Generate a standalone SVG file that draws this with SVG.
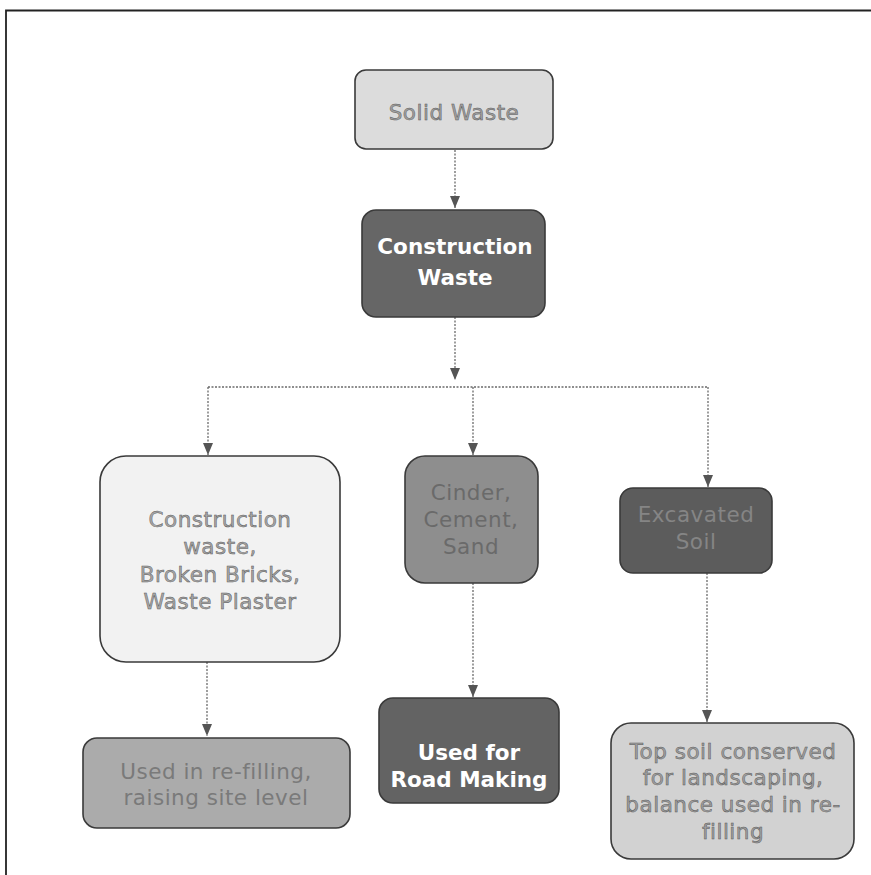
<svg xmlns="http://www.w3.org/2000/svg" width="871" height="875" viewBox="0 0 871 875">
  <defs>
    <marker id="arrowDown" viewBox="0 0 10 12" refX="5" refY="12" markerWidth="10" markerHeight="12" markerUnits="userSpaceOnUse">
      <path d="M0,0 L10,0 L5,12 Z" fill="#555"/>
    </marker>
  </defs>
  <style>
    .box { stroke: #3a3a3a; stroke-width: 1.6; }
    .t { font-family: "DejaVu Sans", "Liberation Sans", sans-serif; font-size: 21.5px; text-anchor: middle; letter-spacing: 0.5px; }
    .o { stroke: #5a5a5a; stroke-width: 0.5; }
    .b { font-weight: bold; fill: #ffffff; letter-spacing: 0; }
    .link { fill: none; stroke: #6a6a6a; stroke-width: 1.3; stroke-dasharray: 2 1.5; }
  </style>

  <rect width="871" height="875" fill="#ffffff"/>
  <!-- page frame -->
  <path d="M6,875 L6,10.5 L871,10.5" fill="none" stroke="#222" stroke-width="1.8"/>

  <g id="connectors">
    <path class="link" d="M455,150 L455,208" marker-end="url(#arrowDown)"/>
    <path class="link" d="M455,317 L455,380" marker-end="url(#arrowDown)"/>
    <path class="link" d="M208,387 L708,387"/>
    <path class="link" d="M208,387 L208,455" marker-end="url(#arrowDown)"/>
    <path class="link" d="M473,387 L473,455" marker-end="url(#arrowDown)"/>
    <path class="link" d="M708,387 L708,487" marker-end="url(#arrowDown)"/>
    <path class="link" d="M207,662 L207,736" marker-end="url(#arrowDown)"/>
    <path class="link" d="M473,583 L473,697" marker-end="url(#arrowDown)"/>
    <path class="link" d="M707,573 L707,722" marker-end="url(#arrowDown)"/>
  </g>

  <g id="solid-waste">
    <rect class="box" x="355" y="70" width="198" height="79" rx="11" fill="#dcdcdc"/>
    <text class="t o" x="454" y="120" fill="#a0a0a0">Solid Waste</text>
  </g>

  <g id="construction-waste">
    <rect class="box" x="362" y="210" width="183" height="107" rx="14" fill="#666666"/>
    <text class="t b" x="455" y="254">Construction</text>
    <text class="t b" x="455" y="285">Waste</text>
  </g>

  <g id="bricks-plaster">
    <rect class="box" x="100" y="456" width="240" height="206" rx="26" fill="#f2f2f2"/>
    <text class="t o" x="220" y="527" fill="#a8a8a8">Construction</text>
    <text class="t o" x="220" y="554" fill="#a8a8a8">waste,</text>
    <text class="t o" x="220" y="582" fill="#a8a8a8">Broken Bricks,</text>
    <text class="t o" x="220" y="609" fill="#a8a8a8">Waste Plaster</text>
  </g>

  <g id="cinder-cement-sand">
    <rect class="box" x="405" y="456" width="133" height="127" rx="20" fill="#8e8e8e"/>
    <text class="t" x="471" y="500" fill="#6a6a6a">Cinder,</text>
    <text class="t" x="471" y="527" fill="#6a6a6a">Cement,</text>
    <text class="t" x="471" y="554" fill="#6a6a6a">Sand</text>
  </g>

  <g id="excavated-soil">
    <rect class="box" x="620" y="488" width="152" height="85" rx="13" fill="#5c5c5c"/>
    <text class="t" x="696" y="522" fill="#858585">Excavated</text>
    <text class="t" x="696" y="549" fill="#858585">Soil</text>
  </g>

  <g id="re-filling">
    <rect class="box" x="83" y="738" width="267" height="90" rx="14" fill="#ababab"/>
    <text class="t" x="216" y="779" fill="#7a7a7a">Used in re-filling,</text>
    <text class="t" x="216" y="805" fill="#7a7a7a">raising site level</text>
  </g>

  <g id="road-making">
    <rect class="box" x="379" y="698" width="180" height="105" rx="14" fill="#636363"/>
    <text class="t b" x="469" y="760">Used for</text>
    <text class="t b" x="469" y="787">Road Making</text>
  </g>

  <g id="top-soil">
    <rect class="box" x="611" y="723" width="243" height="136" rx="20" fill="#d2d2d2"/>
    <text class="t o" x="733" y="759" fill="#a0a0a0">Top soil conserved</text>
    <text class="t o" x="733" y="785" fill="#a0a0a0">for landscaping,</text>
    <text class="t o" x="733" y="812" fill="#a0a0a0">balance used in re-</text>
    <text class="t o" x="733" y="839" fill="#a0a0a0">filling</text>
  </g>
</svg>
